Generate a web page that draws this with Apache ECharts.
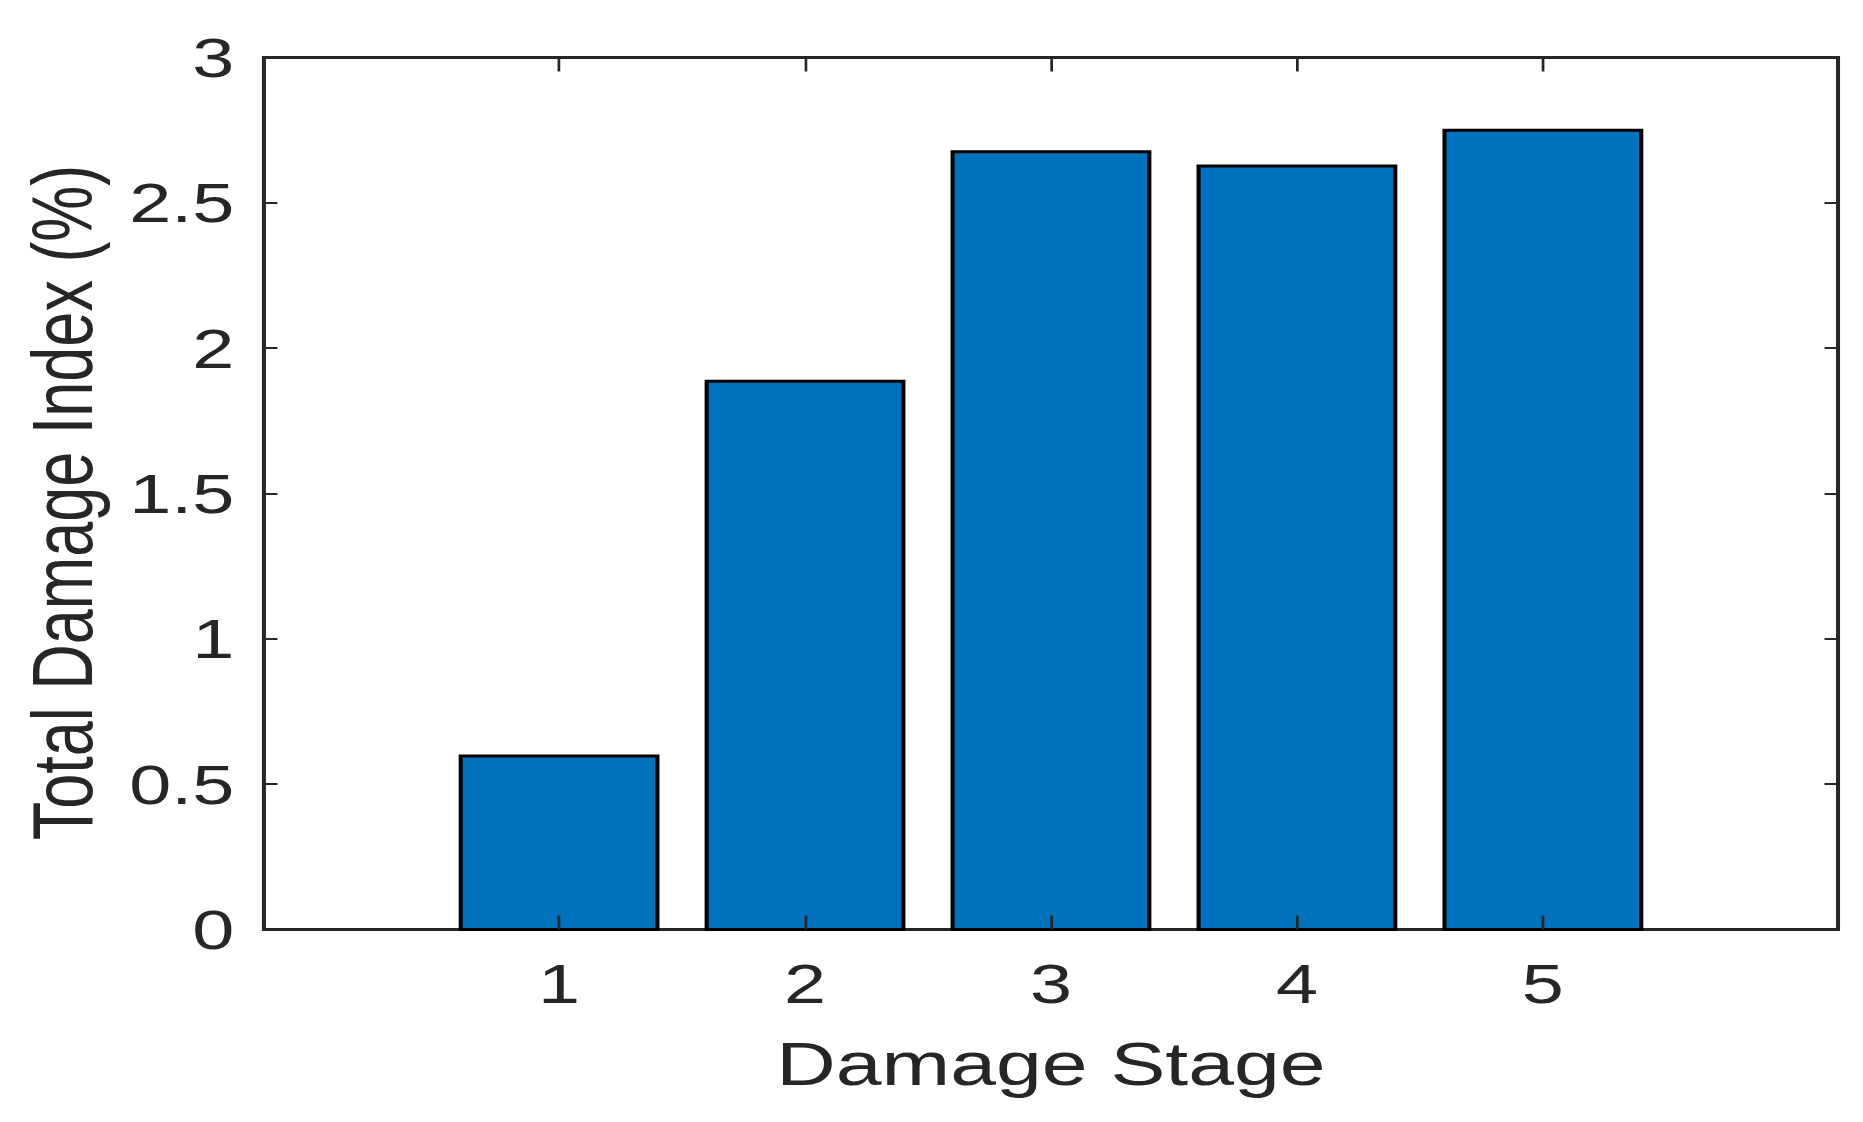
<!DOCTYPE html>
<html>
<head>
<meta charset="utf-8">
<script src="https://cdn.jsdelivr.net/npm/echarts@6/dist/echarts.min.js"></script>
<style>
  html, body { margin: 0; padding: 0; background: #fff; overflow: hidden; }
  /* the original figure is stretched sideways, so the chart is drawn narrow and widened */
  #chart { width: 1380px; height: 1122px; transform: scaleX(1.35); transform-origin: 0 0; }
</style>
</head>
<body>
<div id="chart"></div>
<script>
// data
const stages = [1, 2, 3, 4, 5];
const damageIndex = [0.597, 1.886, 2.676, 2.627, 2.75];
const yTicks = [0, 0.5, 1, 1.5, 2, 2.5, 3];

const barWidth = 0.8; // in axis units, like matlab's bar()
const axisColor = '#262626';
const font = '"Liberation Sans", Arial, sans-serif';

const chart = echarts.init(document.getElementById('chart'), null, { renderer: 'svg' });

const tickStyle = { color: axisColor, width: 2 };

const option = {
    animation: false,
    grid: {
        left: 195.5,
        right: 18.5,
        top: 57.5,
        bottom: 192.5,
        show: true,
        borderColor: axisColor,
        borderWidth: 3,
        backgroundColor: 'transparent'
    },
    xAxis: [
        {
            type: 'value',
            min: -0.2,
            max: 6.2,
            z: 5,
            name: 'Damage Stage',
            nameLocation: 'middle',
            nameGap: 104,
            nameTextStyle: { color: axisColor, fontSize: 61, fontFamily: font },
            axisLine: { show: false, onZero: false },
            splitLine: { show: false },
            axisTick: { inside: true, length: 14, customValues: stages, lineStyle: tickStyle },
            axisLabel: {
                customValues: stages,
                margin: 26,
                color: axisColor,
                fontSize: 56,
                fontFamily: font
            }
        },
        {
            // top side ticks
            type: 'value',
            position: 'top',
            min: -0.2,
            max: 6.2,
            z: 5,
            axisLine: { show: false, onZero: false },
            splitLine: { show: false },
            axisTick: { inside: true, length: 14, customValues: stages, lineStyle: tickStyle },
            axisLabel: { show: false }
        }
    ],
    yAxis: [
        {
            type: 'value',
            min: 0,
            max: 3,
            interval: 0.5,
            z: 5,
            name: 'Total Damage Index (%)',
            nameLocation: 'middle',
            nameGap: 118,
            nameTextStyle: { color: axisColor, fontSize: 63, fontFamily: font, padding: [0, 18, 0, 0] },
            axisLine: { show: false, onZero: false },
            splitLine: { show: false },
            axisTick: { inside: true, length: 10, lineStyle: tickStyle },
            axisLabel: {
                customValues: yTicks,
                margin: 22,
                color: axisColor,
                fontSize: 56,
                fontFamily: font,
                formatter: (v) => String(v)
            }
        },
        {
            type: 'value',
            position: 'right',
            min: 0,
            max: 3,
            interval: 0.5,
            z: 5,
            axisLine: { show: false, onZero: false },
            splitLine: { show: false },
            axisTick: { inside: true, length: 10, lineStyle: tickStyle },
            axisLabel: { show: false }
        }
    ],
    series: [
        {
            type: 'custom',
            xAxisIndex: 0,
            yAxisIndex: 0,
            data: stages.map((s, i) => [s, damageIndex[i]]),
            renderItem(params, api) {
                const x = api.value(0);
                const y = api.value(1);
                const p1 = api.coord([x - barWidth / 2, y]);
                const p2 = api.coord([x + barWidth / 2, 0]);
                return {
                    type: 'rect',
                    shape: { x: p1[0], y: p1[1], width: p2[0] - p1[0], height: p2[1] - p1[1] },
                    style: { fill: '#0072bd', stroke: '#000', lineWidth: 3 }
                };
            }
        }
    ]
};

chart.setOption(option);
</script>
</body>
</html>
